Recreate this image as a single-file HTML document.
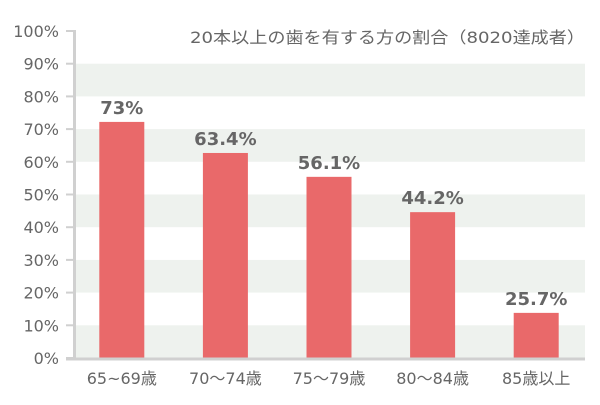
<!DOCTYPE html>
<html><head><meta charset="utf-8"><style>
body{margin:0;background:#fff;}
svg text{font-family:"DejaVu Sans","Noto Sans CJK JP",sans-serif;fill:#666;}
</style></head><body>
<svg id="chart" width="600" height="400" xmlns="http://www.w3.org/2000/svg">
<text x="190" y="43" font-size="16" textLength="395" lengthAdjust="spacingAndGlyphs">20本以上の歯を有する方の割合（8020達成者）</text>
<g id="bands"></g><g id="bars"></g><g id="axes"></g>
</svg>
<script>
const categories=["65~69歳","70～74歳","75～79歳","80～84歳","85歳以上"];
const values=[72.2,62.7,55.4,44.6,13.8];
const valueLabels=["73%","63.4%","56.1%","44.2%","25.7%"];
const yTicks=[0,10,20,30,40,50,60,70,80,90,100];
const NS="http://www.w3.org/2000/svg";
const y0=358,y1=31,xL=76,xR=585,x0=70,step=103.6,bw=45;
const y=v=>y0-(v/100)*(y0-y1);
const xc=i=>x0+step*(i+0.5);
function mk(tag,attrs,parent,txt){const e=document.createElementNS(NS,tag);for(const k in attrs)e.setAttribute(k,attrs[k]);if(txt!=null)e.textContent=txt;document.getElementById(parent).appendChild(e);return e;}
for(let k=0;k<yTicks.length-1;k++){
  if(k%2===0){const b=mk("rect",{x:xL,y:y(yTicks[k+1]),width:xR-xL,height:y(yTicks[k])-y(yTicks[k+1]),fill:"#eef2ee"},"bands");
  
  }
}
yTicks.forEach(t=>{
  const l=mk("line",{x1:66,x2:75,y1:y(t),y2:y(t),stroke:"#d0d0d0","stroke-width":2},"axes");
  
  
  const tx=mk("text",{x:59,y:y(t)+6,"text-anchor":"end","font-size":16},"axes",t+"%");
  
  
});
const ya=mk("line",{x1:74.5,x2:74.5,y1:y1-1,y2:y0,stroke:"#d0d0d0","stroke-width":3},"axes");


const xa=mk("line",{x1:66,x2:xR,y1:y0+1,y2:y0+1,stroke:"#d0d0d0","stroke-width":3},"axes");


values.forEach((v,i)=>{
  const r=mk("rect",{x:xc(i)-bw/2,y:y(v),width:bw,height:y0-y(v),fill:"#e9696a"},"bars");
  
  
  const t=mk("text",{x:xc(i),y:y(v)-8,"text-anchor":"middle","font-size":18,"font-weight":"bold"},"bars",valueLabels[i]);
  
  
  const c=mk("text",{x:xc(i),y:384,"text-anchor":"middle","font-size":16},"axes",categories[i]);
  
  
});
</script>
</body></html>
